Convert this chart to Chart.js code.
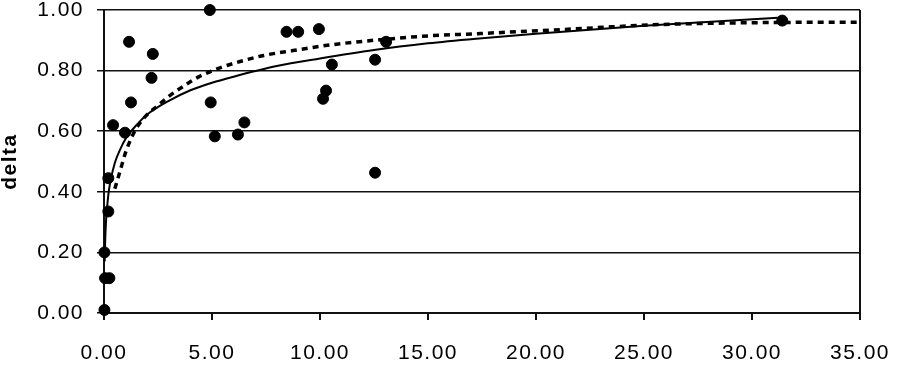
<!DOCTYPE html>
<html>
<head>
<meta charset="utf-8">
<script src="https://cdn.jsdelivr.net/npm/chart.js@4.4.0/dist/chart.umd.min.js"></script>
<style>
  html, body { margin: 0; padding: 0; background: #fff; }
  #wrap { width: 911px; height: 375px; }
</style>
</head>
<body>
<div id="wrap"><canvas id="deltaChart"></canvas></div>
<script>
// observed points
const obsX = [0.02, 0.05, 0.25, 0.02, 0.2, 0.2, 0.42, 0.97, 1.16, 1.25, 2.2, 2.26, 4.9, 4.94, 5.13, 6.2, 6.5, 8.45, 8.99, 9.95, 10.14, 10.28, 10.55, 12.55, 12.55, 13.06, 31.4];
const obsY = [0.01, 0.115, 0.115, 0.20, 0.335, 0.445, 0.62, 0.595, 0.895, 0.695, 0.776, 0.855, 1.00, 0.695, 0.583, 0.589, 0.629, 0.928, 0.928, 0.937, 0.707, 0.734, 0.82, 0.836, 0.463, 0.895, 0.965];

// solid trend line
const solidX = [0.03, 0.06, 0.1, 0.2, 0.3, 0.5, 0.75, 1, 1.5, 2, 3, 4, 5, 6, 8, 10, 12.5, 15, 17.5, 20, 25, 31.4];
const solidY = [0.17, 0.25, 0.31, 0.39, 0.435, 0.495, 0.54, 0.575, 0.62, 0.655, 0.70, 0.735, 0.76, 0.78, 0.815, 0.84, 0.868, 0.89, 0.907, 0.922, 0.948, 0.975];

// dotted trend line
const dotX = [0.5, 0.75, 1.0, 1.25, 1.5, 2, 2.5, 3, 3.5, 4.4, 5.4, 6.3, 7.4, 8.75, 10.5, 12.8, 15.1, 17.3, 21.6, 25.7, 30, 35];
const dotY = [0.41, 0.47, 0.53, 0.575, 0.61, 0.655, 0.685, 0.715, 0.74, 0.78, 0.81, 0.83, 0.85, 0.866, 0.885, 0.902, 0.915, 0.922, 0.937, 0.952, 0.958, 0.96];

const xTicks = [0, 5, 10, 15, 20, 25, 30, 35];
const yTicks = [0, 0.2, 0.4, 0.6, 0.8, 1.0];

const toPts = (xs, ys) => xs.map((x, i) => ({ x: x, y: ys[i] }));
const ink = '#111';
const face = '"Liberation Sans", Arial, sans-serif';

// the scanned labels are a little wider than plain Arial
const spacing = {
  id: 'spacing',
  beforeLayout: chart => { chart.ctx.letterSpacing = '1.5px'; },
  beforeDraw: chart => { chart.ctx.letterSpacing = '1.5px'; }
};

const ctx = document.getElementById('deltaChart').getContext('2d');

new Chart(ctx, {
  type: 'scatter',
  data: {
    datasets: [
      {
        label: 'delta',
        data: toPts(obsX, obsY),
        backgroundColor: '#000',
        borderColor: '#000',
        pointRadius: 5.5,
        pointHoverRadius: 5.5,
        clip: false,
        order: 0
      },
      {
        label: 'fit 1',
        data: toPts(solidX, solidY),
        showLine: true,
        borderColor: '#000',
        borderWidth: 2,
        pointRadius: 0,
        cubicInterpolationMode: 'monotone',
        clip: false,
        order: 1
      },
      {
        label: 'fit 2',
        data: toPts(dotX, dotY),
        showLine: true,
        borderColor: '#000',
        borderWidth: 3.5,
        borderDash: [6, 5],
        pointRadius: 0,
        cubicInterpolationMode: 'monotone',
        clip: false,
        order: 2
      }
    ]
  },
  options: {
    responsive: true,
    maintainAspectRatio: false,
    animation: false,
    layout: { padding: { top: 10, right: 51, left: 0, bottom: 0 } },
    plugins: {
      legend: { display: false },
      tooltip: { enabled: false }
    },
    scales: {
      x: {
        type: 'linear',
        min: 0,
        max: 35,
        afterBuildTicks: s => { s.ticks = xTicks.map(v => ({ value: v })); },
        afterFit: s => { s.height = 62; s.paddingLeft = 0; s.paddingRight = 0; },
        border: { color: ink, width: 2 },
        grid: {
          color: c => (c.tick && c.tick.value === 35 ? ink : 'rgba(0,0,0,0)'),
          tickColor: ink,
          lineWidth: 2,
          tickLength: 7
        },
        ticks: {
          color: '#000',
          padding: 23,
          maxRotation: 0,
          font: { family: face, size: 21, lineHeight: 1 },
          callback: v => v.toFixed(2)
        }
      },
      y: {
        min: 0,
        max: 1,
        afterBuildTicks: s => { s.ticks = yTicks.map(v => ({ value: v })); },
        afterFit: s => { s.width = 104; s.paddingTop = 0; s.paddingBottom = 0; },
        border: { color: ink, width: 2 },
        grid: { color: ink, lineWidth: 1.5, tickLength: 7 },
        title: {
          display: true,
          text: 'delta',
          color: '#000',
          padding: { top: 0, bottom: 4 },
          font: { family: face, size: 21, weight: 'bold', lineHeight: 1 }
        },
        ticks: {
          color: '#000',
          padding: 13,
          font: { family: face, size: 21, lineHeight: 1 },
          callback: v => v.toFixed(2)
        }
      }
    }
  },
  plugins: [spacing]
});
</script>
</body>
</html>
